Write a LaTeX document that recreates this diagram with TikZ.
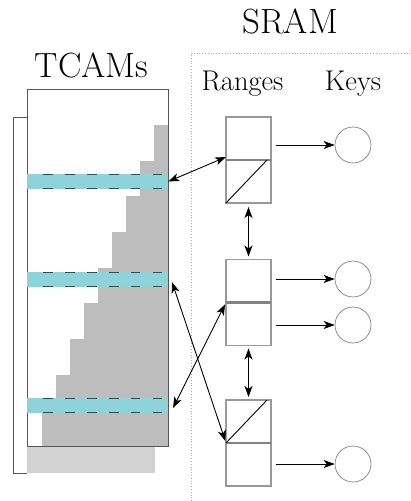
\documentclass[tikz,border=0pt]{standalone}
\usepackage{tikz}
\usetikzlibrary{arrows.meta,calc}
\definecolor{CamCyan}{HTML}{8DD3D9}
\definecolor{CamStair}{HTML}{BDBDBD}
\definecolor{CamBack}{HTML}{D2D2D2}
\definecolor{CamLine}{HTML}{555555}
\definecolor{SramBox}{HTML}{999999}
\definecolor{SramDot}{HTML}{AAAAAA}
\definecolor{DashInk}{HTML}{2F4F52}

\begin{document}
\begin{tikzpicture}[x=1pt, y=-1pt,
  cell/.style={draw=SramBox, line width=1.8pt, minimum width=45pt,
               minimum height=43pt, inner sep=0pt, outer sep=0pt},
  divider/.style={draw=SramBox!85!black, line width=2.6pt},
  keynode/.style={circle, draw=gray, line width=0.7pt, minimum size=36pt, inner sep=0pt},
  arr/.style={-{Stealth[length=11pt,width=8pt,inset=3pt]}, line width=0.9pt},
  darr/.style={{Stealth[length=11pt,width=8pt,inset=3pt]}-{Stealth[length=11pt,width=8pt,inset=3pt]},
               line width=0.9pt},
  bigtitle/.style={anchor=base, font=\fontsize{35}{40}\selectfont},
  coltitle/.style={anchor=base, font=\fontsize{28.5}{32}\selectfont}]
  \useasboundingbox (0,0) rectangle (411,501);

  % titles
  \node[bigtitle] (tcamlbl) at (91.5,77) {TCAMs};
  \node[bigtitle] (sramlbl) at (290,33) {SRAM};
  \node[coltitle] (rangelbl) at (242.5,90) {Ranges};
  \node[coltitle] (keylbl) at (353,90) {Keys};

  % SRAM area
  \draw[SramDot, dotted, line width=0.8pt] (191,501) -- (191,53) -- (411,53);

  % TCAM blocks
  \fill[CamBack] (27,446) rectangle (155,473);
  \draw[CamLine, line width=0.8pt] (27,117) -- (13,117) -- (13,473) -- (27,473);
  \draw[CamLine, fill=white, line width=0.9pt] (27,89) rectangle (168.3,446);
  \foreach \n in {0,...,8}
    \fill[CamStair] ({154-14*\n},{125+35.67*\n}) rectangle (168.3,446);
  \foreach \y in {174,272,398} {
    \fill[CamCyan] (27,\y) rectangle (168.3,\y+14.5);
    \draw[DashInk, line width=1pt, dash pattern=on 9.5pt off 12.4pt]
      (43.3,\y) -- (168.3,\y) (43.3,\y+14.5) -- (168.3,\y+14.5);
  }
  \coordinate (b1) at (168.3,181.5);
  \coordinate (b2) at (172,282);
  \coordinate (b3) at (173,408);

  % range cells
  \node[cell] (r1a) at (248.5,138.5) {};
  \node[cell] (r1b) at (248.5,181.5) {};
  \node[cell] (r2a) at (248.5,281) {};
  \node[cell] (r2b) at (248.5,324) {};
  \node[cell] (r3a) at (248.5,421.5) {};
  \node[cell] (r3b) at (248.5,464.5) {};
  \foreach \c in {r1a,r2a,r3a}
    \draw[divider] (\c.south west) -- (\c.south east);
  \draw[line width=0.9pt] (r1b.south west) -- ([xshift=-4pt]r1b.north east);
  \draw[line width=0.9pt] (r3a.south west) -- ([xshift=-4pt]r3a.north east);

  % keys
  \node[keynode] (k1) at (353,145) {};
  \node[keynode] (k2) at (353,279) {};
  \node[keynode] (k3) at (353,325) {};
  \node[keynode] (k4) at (353,464) {};
  \draw[arr, shorten <=5pt] (r1a.east |- k1) -- (k1);
  \draw[arr, shorten <=5pt] (r2a.east |- k2) -- (k2);
  \draw[arr, shorten <=5pt] (r2b.east |- k3) -- (k3);
  \draw[arr, shorten <=5pt] (r3b.east |- k4) -- (k4);

  % links
  \draw[darr, line width=1.3pt, shorten <=4pt, shorten >=3pt] (r1b.south) -- (r2a.north);
  \draw[darr, line width=1.3pt, shorten <=3pt, shorten >=3pt] (r2b.south) -- (r3a.north);
  \draw[darr] (b1) -- ([yshift=3pt]r1a.south west);
  \draw[darr, shorten >=2pt] (b2) -- (r3a.south west);
  \draw[darr, shorten >=2pt] (b3) -- (r2a.south west);
\end{tikzpicture}
\end{document}
